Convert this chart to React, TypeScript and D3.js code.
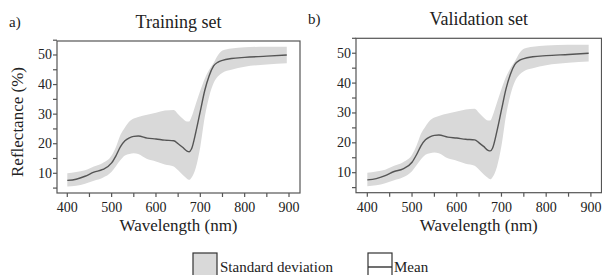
import React from "react";
import * as d3 from "d3";

const wavelengths = [400, 420, 440, 460, 480, 500, 510, 520, 530, 540, 550, 560, 580, 600, 620, 640, 650, 660, 670, 675, 680, 690, 700, 710, 720, 730, 740, 750, 770, 800, 850, 895];

const trainMean = [7.6, 8.0, 9.0, 10.4, 11.3, 13.5, 16.0, 19.0, 21.0, 22.0, 22.5, 22.6, 21.9, 21.6, 21.2, 21.0, 20.0, 18.8, 17.5, 17.3, 18.2, 24, 31, 38, 43, 46.3, 47.6, 48.2, 48.8, 49.2, 49.6, 50.0];
const trainUpper = [10, 10.4, 11, 12.3, 13.5, 16, 19, 23, 25.5, 27.5, 28.5, 29, 29.8, 30.5, 31.2, 31.4, 30, 28.5, 27.5, 27.5, 29, 33.5, 38, 42, 45, 47.3, 50, 51.5, 52.2, 52.6, 52.8, 52.8];
const trainLower = [5.5, 5.8, 6.5, 7.5, 8.5, 10.5, 12.5, 14.5, 16, 16.5, 16.8, 16.5, 14.8, 14, 13, 12.3, 11, 9.5, 8.2, 7.8, 8.5, 12, 19, 29, 36, 40.5, 42.8, 44, 45, 46, 46.8, 47.2];

const validMean = [7.6, 8.0, 9.0, 10.4, 11.3, 13.5, 16.0, 19.0, 21.0, 22.0, 22.5, 22.6, 21.9, 21.6, 21.2, 21.0, 20.0, 18.8, 17.5, 17.3, 18.2, 24, 31, 38, 43, 46.3, 47.6, 48.2, 48.8, 49.2, 49.6, 50.0];
const validUpper = [10, 10.4, 11, 12.3, 13.5, 16, 19, 23, 25.5, 27.5, 28.5, 29, 29.8, 30.5, 31.2, 31.4, 30, 28.5, 27.5, 27.5, 29, 33.5, 38, 42, 45, 47.3, 50, 51.5, 52.2, 52.6, 52.8, 52.8];
const validLower = [5.5, 5.8, 6.5, 7.5, 8.5, 10.5, 12.5, 14.5, 16, 16.5, 16.8, 16.5, 14.8, 14, 13, 12.3, 11, 9.5, 8.2, 7.8, 8.5, 12, 19, 29, 36, 40.5, 42.8, 44, 45, 46, 46.8, 47.2];

const xTicks = [400, 450, 500, 550, 600, 650, 700, 750, 800, 850, 900];
const xTickLabels = ["400", "", "500", "", "600", "", "700", "", "800", "", "900"];
const yTicks = [5, 10, 15, 20, 25, 30, 35, 40, 45, 50, 55];
const yTickLabels = ["", "10", "", "20", "", "30", "", "40", "", "50", ""];

const FONT = "Liberation Serif, Times New Roman, Times, DejaVu Serif, serif";
const BAND = "#d9d9d9";
const LINE = "#555555";
const AXIS = "#555555";

type PanelProps = {
  left: number; right: number; top: number; bottom: number;
  xDom: [number, number]; yDom: [number, number];
  mean: number[]; upper: number[]; lower: number[];
  title: string; letter: string; letterX: number; letterY: number; titleY: number;
  yLabel?: boolean;
};

const txt = (size: number) => ({ fontFamily: FONT, fontSize: size + "px", fill: "#222" });

function Panel(p: PanelProps) {
  const x = d3.scaleLinear().domain(p.xDom).range([p.left, p.right]);
  const y = d3.scaleLinear().domain(p.yDom).range([p.bottom, p.top]);
  const rows = wavelengths.map((w, i) => ({ w, m: p.mean[i], u: p.upper[i], l: p.lower[i] }));
  const area = d3.area<any>().x(d => x(d.w)).y0(d => y(d.l)).y1(d => y(d.u)).curve(d3.curveMonotoneX);
  const line = d3.line<any>().x(d => x(d.w)).y(d => y(d.m)).curve(d3.curveMonotoneX);
  const cx = (p.left + p.right) / 2;
  return (
    <g>
      <path d={area(rows) || ""} fill={BAND} stroke="none" />
      <path d={line(rows) || ""} fill="none" stroke={LINE} strokeWidth={1.4} />
      <rect x={p.left} y={p.top} width={p.right - p.left} height={p.bottom - p.top} fill="none" stroke={AXIS} strokeWidth={1.2} />
      {xTicks.map((t, i) => (
        <g key={"x" + t}>
          <line x1={x(t)} x2={x(t)} y1={p.bottom} y2={p.bottom + 4} stroke={AXIS} strokeWidth={1.2} />
          {xTickLabels[i] && (
            <text x={x(t)} y={p.bottom + 19} textAnchor="middle" style={txt(14)}>{xTickLabels[i]}</text>
          )}
        </g>
      ))}
      {yTicks.map((t, i) => (
        <g key={"y" + t}>
          <line x1={p.left - 4} x2={p.left} y1={y(t)} y2={y(t)} stroke={AXIS} strokeWidth={1.2} />
          {yTickLabels[i] && (
            <text x={p.left - 5} y={y(t) + 4.5} textAnchor="end" style={txt(14)}>{yTickLabels[i]}</text>
          )}
        </g>
      ))}
      <text x={cx} y={p.bottom + 38} textAnchor="middle" style={txt(17)}>Wavelength (nm)</text>
      <text x={cx} y={p.titleY} textAnchor="middle" style={txt(18)}>{p.title}</text>
      <text x={p.letterX} y={p.letterY} style={txt(15)}>{p.letter}</text>
      {p.yLabel && (
        <text transform={`translate(23, ${(p.top + p.bottom) / 2 + 5}) rotate(-90)`} textAnchor="middle" style={txt(17)}>Reflectance (%)</text>
      )}
    </g>
  );
}

export default function App() {
  return (
    <svg width={602} height={275} style={{ position: "absolute", left: 0, top: 0, background: "#fff" }}>
      <Panel left={57} right={300} top={41} bottom={193} xDom={[376.8, 924.8]} yDom={[3.34, 54.73]}
        mean={trainMean} upper={trainUpper} lower={trainLower}
        title="Training set" letter="a)" letterX={9} letterY={27} titleY={28} yLabel />
      <Panel left={356} right={601.5} top={38.3} bottom={192.7} xDom={[374.7, 923.7]} yDom={[3.3, 55.0]}
        mean={validMean} upper={validUpper} lower={validLower}
        title="Validation set" letter="b)" letterX={308} letterY={24} titleY={25} />
      <rect x={193} y={253} width={24} height={28} fill={BAND} stroke="#333" strokeWidth={1.2} />
      <text x={220} y={272} style={txt(15)}>Standard deviation</text>
      <rect x={368} y={253} width={24} height={28} fill="#fff" stroke="#333" strokeWidth={1.2} />
      <line x1={368} x2={392} y1={267} y2={267} stroke="#333" strokeWidth={1.4} />
      <text x={394} y={272} style={txt(15)}>Mean</text>
    </svg>
  );
}
